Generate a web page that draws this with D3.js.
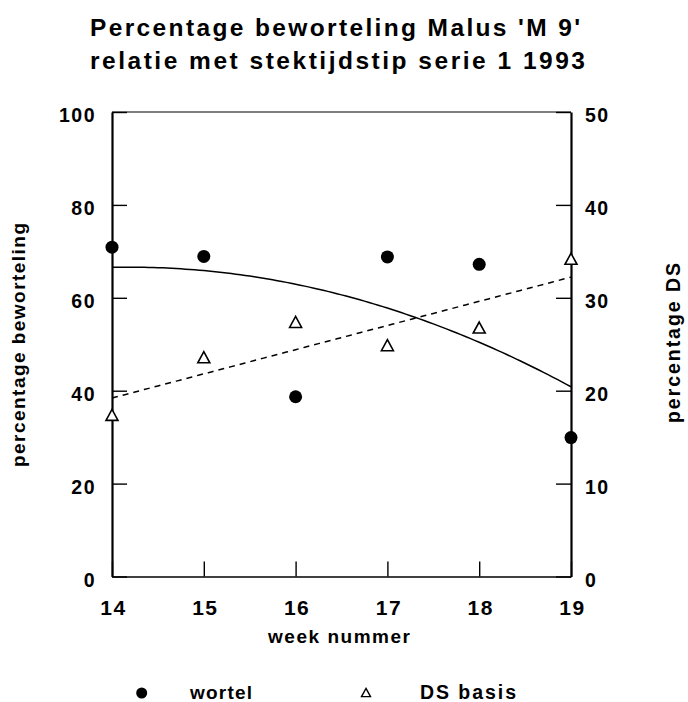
<!DOCTYPE html>
<html><head><meta charset="utf-8">
<script src="https://cdn.jsdelivr.net/npm/d3@7"></script>
<style>body{margin:0;background:#fff}svg{display:block}</style>
</head><body>
<svg id="c" width="688" height="702"></svg>
<script>
// ---- data ----
const weeks = [14, 15, 16, 17, 18, 19];
const wortel = [70.9, 68.9, 38.7, 68.8, 67.2, 29.9];   // left axis
const dsBasis = [17.4, 23.6, 27.4, 24.9, 26.8, 34.2];  // right axis
const leftTicks = [0, 20, 40, 60, 80, 100];
const rightTicks = [0, 10, 20, 30, 40, 50];
const xTicks = [14, 15, 16, 17, 18, 19];
const titleLines = ["Percentage beworteling Malus 'M 9'", "relatie met stektijdstip serie 1 1993"];
const xTitle = "week nummer";
const yLeftTitle = "percentage beworteling";
const yRightTitle = "percentage DS";
const legendLabels = ["wortel", "DS basis"];

// ---- least-squares polynomial fit (from the data) ----
function polyfit(xs, ys, deg) {
  const n = deg + 1;
  const A = Array.from({length: n}, () => new Array(n + 1).fill(0));
  const x0 = d3.mean(xs);
  xs.forEach((xv, i) => {
    const u = xv - x0;
    for (let r = 0; r < n; r++) {
      for (let c = 0; c < n; c++) A[r][c] += Math.pow(u, r + c);
      A[r][n] += ys[i] * Math.pow(u, r);
    }
  });
  for (let i = 0; i < n; i++) {
    let p = i;
    for (let k = i + 1; k < n; k++) if (Math.abs(A[k][i]) > Math.abs(A[p][i])) p = k;
    [A[i], A[p]] = [A[p], A[i]];
    for (let k = i + 1; k < n; k++) {
      const f = A[k][i] / A[i][i];
      for (let j = i; j <= n; j++) A[k][j] -= f * A[i][j];
    }
  }
  const coef = new Array(n).fill(0);
  for (let i = n - 1; i >= 0; i--) {
    let s = A[i][n];
    for (let j = i + 1; j < n; j++) s -= A[i][j] * coef[j];
    coef[i] = s / A[i][i];
  }
  return x => coef.reduce((acc, c, k) => acc + c * Math.pow(x - x0, k), 0);
}

// ---- layout ----
const svg = d3.select("#c");
const L = 112, R = 571, T = 112, B = 576.5;
const x = d3.scaleLinear().domain([14, 19]).range([L, R]);
const yL = d3.scaleLinear().domain([0, 100]).range([B, T]);
const yR = d3.scaleLinear().domain([0, 50]).range([B, T]);
const FONT = "'Liberation Sans', Arial, Helvetica, sans-serif";

function txt(sel, size) {
  return sel.style("font-family", FONT).style("font-weight", "bold").style("font-size", size + "px").attr("fill", "#000");
}

// title
txt(svg.selectAll("text.title").data(titleLines).join("text")
  .attr("class", "title")
  .attr("x", 90)
  .attr("y", (d, i) => i === 0 ? 35.5 : 68.5)
  .attr("textLength", (d, i) => i === 0 ? 490 : 495)
  .attr("lengthAdjust", "spacing"), 24.5)
  .text(d => d);

// frame top line
svg.append("line").attr("x1", L).attr("x2", R).attr("y1", T).attr("y2", T)
  .attr("stroke", "#000").attr("stroke-width", 1.2);

// axes
function styleAxis(g, domainW, size) {
  g.select(".domain").attr("stroke-width", domainW);
  g.selectAll(".tick line").attr("stroke-width", 1.4);
  txt(g.selectAll("text"), size).style("letter-spacing", "1.5px");
}
const gL = svg.append("g").attr("transform", `translate(${L},0)`)
  .call(d3.axisLeft(yL).tickValues(leftTicks).tickSize(-15).tickSizeOuter(0).tickPadding(16));
styleAxis(gL, 2.2, 19.5);
gL.selectAll("text").attr("dy", null).attr("y", 9.5);

const gR = svg.append("g").attr("transform", `translate(${R},0)`)
  .call(d3.axisRight(yR).tickValues(rightTicks).tickSize(-15).tickSizeOuter(0).tickPadding(14));
styleAxis(gR, 2.2, 19.5);
gR.selectAll("text").attr("dy", null).attr("y", 9.5);

const gB = svg.append("g").attr("transform", `translate(0,${B})`)
  .call(d3.axisBottom(x).tickValues(xTicks).tickSize(-15).tickSizeOuter(0).tickFormat(d3.format("d")));
styleAxis(gB, 1.6, 21);
gB.selectAll("text").attr("dy", null).attr("y", 38.5).attr("dx", 1);

// axis titles
txt(svg.append("text").attr("x", 339).attr("y", 643).attr("text-anchor", "middle")
  .attr("textLength", 142).attr("lengthAdjust", "spacing"), 19).text(xTitle);
txt(svg.append("text").attr("transform", "translate(25,345) rotate(-90)").attr("text-anchor", "middle")
  .attr("textLength", 244).attr("lengthAdjust", "spacing"), 19).text(yLeftTitle);
txt(svg.append("text").attr("transform", "translate(680,343) rotate(-90)").attr("text-anchor", "middle")
  .attr("textLength", 160).attr("lengthAdjust", "spacing"), 19.5).text(yRightTitle);

// fitted curves
const fitW = polyfit(weeks, wortel, 2);
const fitD = polyfit(weeks, dsBasis, 1);
const xs = d3.range(14, 19.0001, 0.05);
svg.append("path").datum(xs)
  .attr("d", d3.line().x(d => x(d)).y(d => yL(fitW(d))))
  .attr("fill", "none").attr("stroke", "#000").attr("stroke-width", 1.5);
svg.append("path").datum(xs)
  .attr("d", d3.line().x(d => x(d)).y(d => yR(fitD(d))))
  .attr("fill", "none").attr("stroke", "#000").attr("stroke-width", 1.5)
  .attr("stroke-dasharray", "6,5");

// markers
const tri = s => `M0,${-s * 0.46}L${s / 2},${s * 0.46}L${-s / 2},${s * 0.46}Z`;
svg.selectAll("circle.w").data(weeks).join("circle").attr("class", "w")
  .attr("cx", d => x(d)).attr("cy", (d, i) => yL(wortel[i])).attr("r", 6.5).attr("fill", "#000");
svg.selectAll("path.ds").data(weeks).join("path").attr("class", "ds")
  .attr("transform", (d, i) => `translate(${x(d)},${yR(dsBasis[i])})`)
  .attr("d", tri(12)).attr("fill", "#fff").attr("stroke", "#000").attr("stroke-width", 1.6);

// legend
svg.append("circle").attr("cx", 141.7).attr("cy", 693).attr("r", 5.5).attr("fill", "#000");
txt(svg.append("text").attr("x", 190).attr("y", 699).attr("textLength", 62).attr("lengthAdjust", "spacing"), 19)
  .text(legendLabels[0]);
svg.append("path").attr("transform", "translate(366,692.5)").attr("d", tri(9))
  .attr("fill", "#fff").attr("stroke", "#000").attr("stroke-width", 1.4);
txt(svg.append("text").attr("x", 420).attr("y", 699).attr("textLength", 96).attr("lengthAdjust", "spacing"), 19.5)
  .text(legendLabels[1]);
</script>
</body></html>
